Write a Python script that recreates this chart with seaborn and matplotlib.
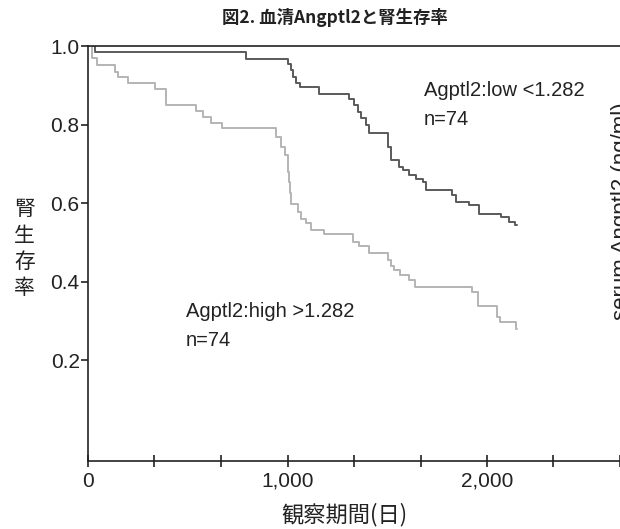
import matplotlib
matplotlib.use("Agg")
import matplotlib.pyplot as plt
import seaborn as sns
import pandas as pd

# -------------------------
# data
# -------------------------
low_days = [0, 35, 790, 1005, 1018, 1030, 1045, 1062, 1160, 1310, 1335, 1352, 1368,
            1393, 1410, 1502, 1518, 1560, 1577, 1610, 1643, 1677, 1693, 1827, 1843,
            1910, 1960, 2068, 2110, 2140, 2150]
low_surv = [1.0, 0.984, 0.967, 0.955, 0.938, 0.920, 0.905, 0.895, 0.879, 0.866, 0.849,
            0.832, 0.816, 0.798, 0.779, 0.743, 0.709, 0.692, 0.684, 0.671, 0.662, 0.654,
            0.633, 0.620, 0.603, 0.594, 0.573, 0.565, 0.552, 0.545, 0.545]

high_days = [0, 18, 43, 135, 152, 198, 335, 390, 543, 577, 615, 672, 940, 968, 985,
             1000, 1006, 1012, 1018, 1052, 1068, 1093, 1118, 1185, 1327, 1360, 1410,
             1502, 1518, 1535, 1563, 1610, 1638, 1927, 1957, 2052, 2065, 2147, 2150]
high_surv = [1.0, 0.969, 0.952, 0.934, 0.920, 0.906, 0.890, 0.849, 0.834, 0.820, 0.803,
             0.790, 0.769, 0.743, 0.722, 0.679, 0.655, 0.625, 0.597, 0.577, 0.560, 0.550,
             0.532, 0.522, 0.501, 0.490, 0.473, 0.454, 0.441, 0.430, 0.416, 0.405, 0.386,
             0.373, 0.337, 0.311, 0.297, 0.280, 0.280]

y_ticks = [0.2, 0.4, 0.6, 0.8, 1.0]
x_major = [0, 1000, 2000]
x_minor = [333, 667, 1333, 1667, 2333, 2667]

df = pd.concat([
    pd.DataFrame({"day": low_days, "surv": low_surv, "group": "low"}),
    pd.DataFrame({"day": high_days, "surv": high_surv, "group": "high"}),
])

# -------------------------
# plot
# -------------------------
sns.set_style("white")
plt.rcParams["font.family"] = ["Liberation Sans", "Noto Sans CJK JP", "DejaVu Sans"]
cjk = ["Noto Sans CJK JP", "DejaVu Sans"]

fig = plt.figure(figsize=(6.2, 5.29), dpi=100)
ax = fig.add_axes([0.142, 0.129, 0.858, 0.784])

sns.lineplot(data=df, x="day", y="surv", hue="group",
             palette={"low": "#5a5a5a", "high": "#b4b4b4"},
             drawstyle="steps-post", estimator=None, legend=False,
             linewidth=1.4, ax=ax)

ax.set_xlim(0, 2665)
ax.set_ylim(-0.056, 1.0)
ax.set_yticks(y_ticks)
ax.set_yticklabels([f"{v:.1f}" for v in y_ticks])
ax.set_xticks(x_major)
ax.set_xticklabels(["0", "1,000", "2,000"])
ax.set_xticks(x_minor, minor=True)
ax.set_xlabel("")
ax.set_ylabel("")

for side in ["left", "bottom", "top"]:
    ax.spines[side].set_color("#222222")
    ax.spines[side].set_linewidth(1.2)
ax.spines["right"].set_visible(False)

ax.tick_params(axis="y", direction="out", length=5, width=1.2, labelsize=15,
               left=True, pad=1, colors="#222222")
ax.tick_params(axis="x", which="both", direction="inout", length=8, width=1.2,
               labelsize=15, bottom=True, pad=4, colors="#222222")

ax.text(1685, 0.872, "Agptl2:low <1.282", fontsize=14.5, color="#222222")
ax.text(1685, 0.80, "n=74", fontsize=14.5, color="#222222")
ax.text(490, 0.31, "Agptl2:high >1.282", fontsize=14.5, color="#222222")
ax.text(490, 0.235, "n=74", fontsize=14.5, color="#222222")

fig.text(0.54, 0.967, "図2. 血清Angptl2と腎生存率", ha="center", va="center",
         fontsize=12.5, fontweight="bold", family=cjk, color="#222222")
fig.text(0.556, 0.027, "観察期間(日)", ha="center", va="center",
         fontsize=16, family=cjk, color="#222222")
fig.text(0.04, 0.53, "腎\n生\n存\n率", ha="center", va="center",
         fontsize=15, family=cjk, linespacing=1.25, color="#222222")
# label of a neighbouring panel, cut by the right edge as in the source
fig.text(0.985, 0.60, "serum Angptl2 (ng/ml)", rotation=90, ha="left", va="center",
         fontsize=16, color="#222222")

fig.savefig("out.png", dpi=100, facecolor="white")
